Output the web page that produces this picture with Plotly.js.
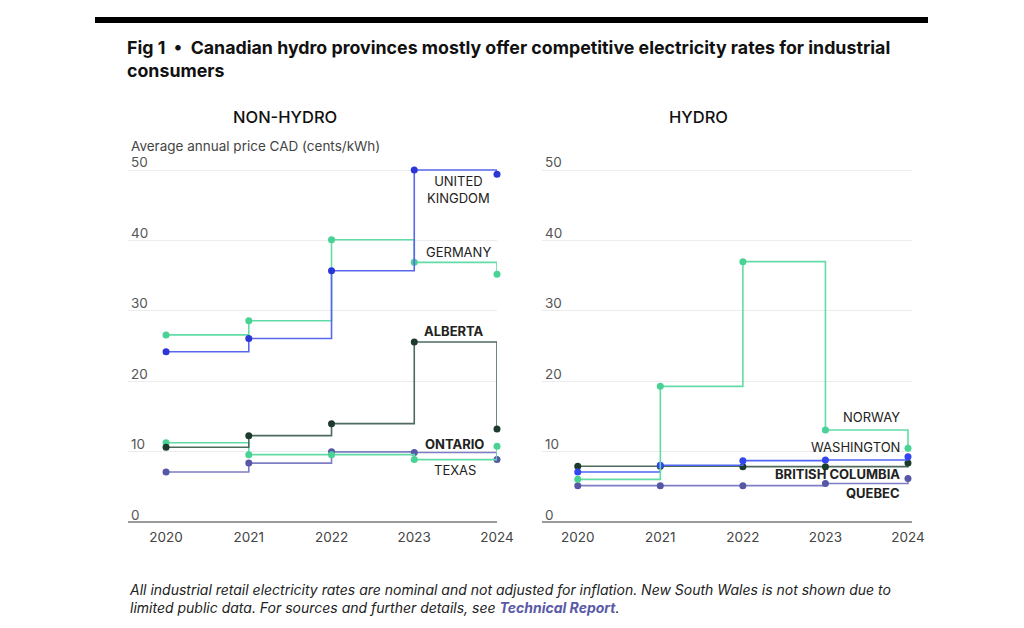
<!DOCTYPE html>
<html>
<head>
<meta charset="utf-8">
<script src="https://cdn.plot.ly/plotly-3.0.1.min.js"></script>
<style>
  html, body { margin: 0; padding: 0; background: #ffffff; }
  #chart { width: 1024px; height: 628px; }
</style>
</head>
<body>
<div id="chart"></div>
<script>
// Years on the x axis
const years = [2020, 2021, 2022, 2023, 2024];

// Non-hydro jurisdictions: average annual industrial price (CAD cents/kWh)
const unitedKingdom = [24.2, 26.1, 35.7, 50.0, 49.4];
const germany       = [26.6, 28.6, 40.1, 36.9, 35.2];
const alberta       = [10.65, 12.3, 14.0, 25.6, 13.25];
const ontario       = [11.3, 9.6, 9.6, 8.9, 10.8];
const texas         = [7.15, 8.4, 10.0, 9.9, 8.9];

// Hydro jurisdictions
const norway           = [6.1, 19.3, 37.0, 13.1, 10.5];
const washington       = [7.15, 8.1, 8.75, 8.85, 9.3];
const britishColumbia  = [7.95, 7.95, 7.9, 7.9, 8.4];
const quebec           = [5.2, 5.2, 5.2, 5.5, 6.2];

// Tick labels
const yTicks = [0, 10, 20, 30, 40, 50];
const xTickText = ['2020', '2021', '2022', '2023', '2024'];

const FONT = 'Inter, "Open Sans", sans-serif';
const W = 1024, H = 628;
const px = v => v / W;
const py = v => (H - v) / H;

const colors = {
  blue:   { line: '#5868ee', marker: '#2c36d6' },
  blue2:  { line: '#4f66f5', marker: '#3146f0' },
  green:  { line: '#62dca6', marker: '#48d394' },
  dark:   { line: '#4d6a5c', marker: '#1d3a2c' },
  purple: { line: '#7d7ec4', marker: '#5757a8' }
};

function stepTrace(y, c, xa, ya) {
  return {
    x: years, y: y, xaxis: xa, yaxis: ya,
    type: 'scatter', mode: 'lines+markers',
    line: { shape: 'hv', color: c.line, width: 1.6 },
    marker: { size: 7, color: c.marker },
    cliponaxis: false, hoverinfo: 'x+y', showlegend: false
  };
}

const traces = [
  stepTrace(texas, colors.purple, 'x', 'y'),
  stepTrace(ontario, colors.green, 'x', 'y'),
  stepTrace(alberta, colors.dark, 'x', 'y'),
  stepTrace(germany, colors.green, 'x', 'y'),
  stepTrace(unitedKingdom, colors.blue, 'x', 'y'),
  stepTrace(quebec, colors.purple, 'x2', 'y2'),
  stepTrace(britishColumbia, colors.dark, 'x2', 'y2'),
  stepTrace(washington, colors.blue2, 'x2', 'y2'),
  stepTrace(norway, colors.green, 'x2', 'y2')
];

// Plot band: value 0 sits at zeroPx; a little room below it keeps the "0" label visible
const zeroPx = 522.3, yBottom = 527, yTop = 150, pxPerUnit = 7.045;
const yMin = -(yBottom - zeroPx) / pxPerUnit;
const yMax = (zeroPx - yTop) / pxPerUnit;

function yAxis() {
  return {
    domain: [py(yBottom), py(yTop)],
    range: [yMin, yMax],
    tickvals: yTicks,
    ticktext: yTicks.map(String),
    ticklabelposition: 'inside top',
    ticklabelshift: 2,
    tickfont: { family: FONT, size: 13.5, color: '#555' },
    showgrid: true, gridcolor: '#ececec', gridwidth: 1,
    zeroline: true, zerolinecolor: '#9a9a9a', zerolinewidth: 1.6,
    showline: false, ticks: '', fixedrange: true
  };
}

function xAxis(left, right, x0, x1) {
  return {
    domain: [px(left), px(right)],
    range: [x0, x1],
    tickvals: years,
    ticktext: xTickText,
    tickfont: { family: FONT, size: 13.5, color: '#444' },
    showgrid: false, zeroline: false, showline: false,
    ticks: '', ticklen: 0, fixedrange: true
  };
}

const labelFont = (bold) => ({ family: FONT, size: 13, color: '#222', weight: bold ? 700 : 400 });

function seriesLabel(text, x, y, xa, ya, bold, anchor) {
  return {
    text: text, x: x, y: y, xref: xa, yref: ya,
    xanchor: anchor || 'center', yanchor: 'middle',
    showarrow: false, align: anchor === 'right' ? 'right' : 'center',
    font: labelFont(bold)
  };
}

const annotations = [
  { text: 'NON-HYDRO', x: px(285), y: py(117), xref: 'paper', yref: 'paper',
    xanchor: 'center', yanchor: 'middle', showarrow: false,
    font: { family: FONT, size: 16.5, color: '#111', weight: 500 } },
  { text: 'HYDRO', x: px(698), y: py(117), xref: 'paper', yref: 'paper',
    xanchor: 'center', yanchor: 'middle', showarrow: false,
    font: { family: FONT, size: 16.5, color: '#111', weight: 500 } },
  { text: 'Average annual price CAD (cents/kWh)', x: px(129), y: py(146),
    xref: 'paper', yref: 'paper', xanchor: 'left', yanchor: 'middle', showarrow: false,
    font: { family: FONT, size: 13.5, color: '#444' } },
  { text: '<i>All industrial retail electricity rates are nominal and not adjusted for inflation. New South Wales is not shown due to<br>limited public data. For sources and further details, see <b><span style="color:#5a5aa8">Technical Report</span></b>.</i>',
    x: px(127), y: py(579), xref: 'paper', yref: 'paper', xanchor: 'left', yanchor: 'top',
    align: 'left', showarrow: false,
    font: { family: FONT, size: 14, color: '#222' } },

  seriesLabel('UNITED<br>KINGDOM', 2023.53, 47.3, 'x', 'y', false),
  seriesLabel('GERMANY', 2023.53, 38.35, 'x', 'y', false),
  seriesLabel('ALBERTA', 2023.48, 27.1, 'x', 'y', true),
  seriesLabel('ONTARIO', 2023.49, 11.1, 'x', 'y', true),
  seriesLabel('TEXAS', 2023.49, 7.4, 'x', 'y', false),

  seriesLabel('NORWAY', 2023.93, 14.95, 'x2', 'y2', false, 'right'),
  seriesLabel('WASHINGTON', 2023.93, 10.7, 'x2', 'y2', false, 'right'),
  seriesLabel('BRITISH COLUMBIA', 2023.93, 6.87, 'x2', 'y2', true, 'right'),
  seriesLabel('QUEBEC', 2023.93, 4.18, 'x2', 'y2', true, 'right')
];

const layout = {
  width: W, height: H,
  margin: { l: 0, r: 0, t: 0, b: 0 },
  paper_bgcolor: '#ffffff', plot_bgcolor: '#ffffff',
  font: { family: FONT },
  title: {
    text: 'Fig 1  •  Canadian hydro provinces mostly offer competitive electricity rates for industrial<br>consumers',
    x: 127 / W, xanchor: 'left', xref: 'container',
    y: 1 - 54 / H, yanchor: 'top', yref: 'container',
    font: { family: FONT, size: 17.8, color: '#111', weight: 700 }
  },
  xaxis: xAxis(128, 497, 2019.54, 2024.0),
  yaxis: Object.assign(yAxis(), { anchor: 'x' }),
  xaxis2: xAxis(542, 911.7, 2019.567, 2024.045),
  yaxis2: Object.assign(yAxis(), { anchor: 'x2' }),
  shapes: [
    { type: 'rect', xref: 'paper', yref: 'paper',
      x0: px(95), x1: px(928), y0: py(23), y1: py(17),
      fillcolor: '#000000', line: { width: 0 } }
  ],
  annotations: annotations,
  showlegend: false
};

Plotly.newPlot('chart', traces, layout, { displayModeBar: false, staticPlot: true });
</script>
</body>
</html>
